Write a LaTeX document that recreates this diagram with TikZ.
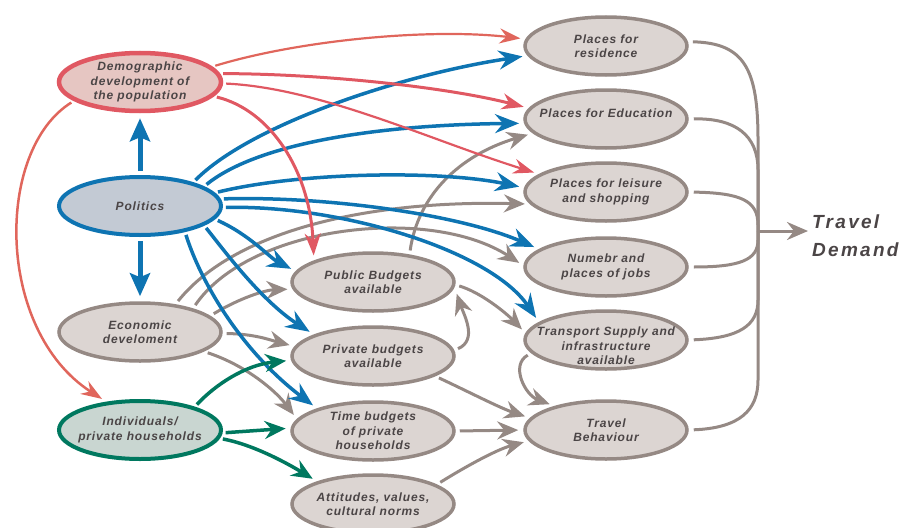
\documentclass[tikz,border=0pt]{standalone}
\usepackage{fontspec}
\setmainfont{Liberation Sans}
\newfontfamily\lblfont[LetterSpace=7]{Liberation Sans}
\newfontfamily\bigfont[LetterSpace=12]{Liberation Sans}
\usetikzlibrary{shapes.geometric,arrows.meta}
\definecolor{gcol}{HTML}{958984}
\definecolor{gfill}{HTML}{DCD5D2}
\definecolor{tcol}{HTML}{4B4546}
\definecolor{rcol}{HTML}{E05862}
\definecolor{rcolb}{HTML}{E0665C}
\definecolor{rfill}{HTML}{E6C6C2}
\definecolor{bcol}{HTML}{0E74B2}
\definecolor{bfill}{HTML}{C3CAD4}
\definecolor{ncol}{HTML}{00785F}
\definecolor{nfill}{HTML}{C9D6D1}
\begin{document}
\begin{tikzpicture}[x=1pt,y=-1pt,
  ell/.style={ellipse, draw=gcol, fill=gfill, line width=3.5pt,
    minimum width=162pt, minimum height=58pt, inner sep=0pt},
  lbl/.style={align=center, inner sep=0pt, text=tcol,
    font={\lblfont\bfseries\itshape\fontsize{12pt}{14.5pt}\selectfont}},
  garr/.style={draw=gcol, line width=3pt, -{Stealth[length=21pt,width=18pt,inset=7pt]},
    shorten <=4pt, shorten >=5pt},
  barr/.style={draw=bcol, line width=3.5pt, -{Stealth[length=24pt,width=19pt,inset=8pt]},
    shorten <=3pt, shorten >=5pt},
  barrbig/.style={draw=bcol, line width=5pt, -{Stealth[length=23pt,width=20pt,inset=4pt]},
    shorten <=4pt, shorten >=5pt},
  rarr/.style={draw=rcol, line width=3pt, -{Stealth[length=22pt,width=16pt,inset=7pt]},
    shorten <=3pt, shorten >=5pt},
  rarrthin/.style={draw=rcol, line width=2.2pt, -{Stealth[length=21pt,width=15pt,inset=7pt]},
    shorten <=3pt, shorten >=5pt},
  narr/.style={draw=ncol, line width=3.5pt, -{Stealth[length=21pt,width=18pt,inset=7pt]},
    shorten <=3pt, shorten >=5pt},
  brk/.style={draw=gcol, line width=3pt, shorten <=5pt}]
\useasboundingbox (0,0) rectangle (904,527);

% left column
\node[ell, draw=rcol, fill=rfill, line width=4.5pt, label={[lbl]center:{Demographic\\development of\\the population}}] (demo) at (140,82) {};
\node[ell, draw=bcol, fill=bfill, line width=4pt, label={[lbl]center:{Politics}}] (pol) at (140,206) {};
\node[ell, label={[lbl]center:{Economic\\develoment}}] (eco) at (140,332) {};
\node[ell, draw=ncol, fill=nfill, line width=4pt, label={[lbl]center:{Individuals/\\private households}}] (ind) at (140,430) {};
% middle column
\node[ell, label={[lbl]center:{Public Budgets\\available}}] (pub) at (373,282) {};
\node[ell, label={[lbl]center:{Private budgets\\available}}] (priv) at (373,356) {};
\node[ell, label={[lbl]center:{Time budgets\\of private\\households}}] (time) at (373,431) {};
\node[ell, label={[lbl]center:{Attitudes, values,\\cultural norms}}] (att) at (373,504) {};
% right column
\node[ell, label={[lbl]center:{Places for\\residence}}] (res) at (606,46) {};
\node[ell, label={[lbl, yshift=6pt]center:{Places for Education}}] (edu) at (606,119) {};
\node[ell, label={[lbl]center:{Places for leisure\\and shopping}}] (lei) at (606,192) {};
\node[ell, label={[lbl]center:{Numebr and\\places of jobs}}] (jobs) at (606,267) {};
\node[ell, label={[lbl, yshift=-6pt]center:{Transport Supply and\\infrastructure\\available}}] (trans) at (606,340) {};
\node[ell, label={[lbl]center:{Travel\\Behaviour}}] (tb) at (606,430) {};
% travel demand
\node[anchor=west, align=left, text=tcol, inner sep=0pt,
  font={\bigfont\bfseries\itshape\fontsize{19pt}{28pt}\selectfont}] (td) at (812,236) {Travel\\Demand};
\coordinate (hub) at (758,231);

% bracket to travel demand
\draw[brk] (res.3) .. controls (745,43) and (758,70) .. (758,140) -- (hub);
\draw[brk] (edu.0) .. controls (735,118) and (758,135) .. (758,170) -- (hub);
\draw[brk] (lei.0) .. controls (740,193) and (758,200) .. (758,225) -- (hub);
\draw[brk] (jobs.0) .. controls (740,267) and (758,260) .. (758,240) -- (hub);
\draw[brk] (trans.0) .. controls (740,338) and (758,325) .. (758,300) -- (hub);
\draw[brk] (tb.0) .. controls (740,428) and (758,410) .. (758,380) -- (hub);
\draw[garr, shorten <=0pt, shorten >=4pt] (hub) -- (td.west |- hub);

% gray arrows
\draw[garr] (eco.38) .. controls (235,230) and (370,200) .. (lei.189);
\draw[garr] (eco.24) .. controls (250,225) and (430,205) .. (jobs.179);
\draw[garr] (eco.13) .. controls (240,298) and (265,290) .. (pub.185);
\draw[garr] (eco.-1) .. controls (255,334) and (270,340) .. (priv.173);
\draw[garr] (eco.-17) .. controls (245,365) and (275,390) .. (time.171);
\draw[garr] (pub.37) .. controls (418,195) and (460,155) .. (edu.191);
\draw[garr] (pub.-2) .. controls (480,292) and (505,312) .. (trans.175);
\draw[garr, shorten >=1pt] (priv.4) .. controls (478,340) and (464,315) .. ([xshift=6pt]pub.-8);
\draw[garr] (priv.-18) .. controls (465,390) and (500,408) .. (tb.171);
\draw[garr] (time.0) -- (tb.180);
\draw[garr] (att.17) .. controls (460,470) and (495,450) .. (tb.188);
\draw[garr] (trans.190) .. controls (510,365) and (525,395) .. (tb.155);

% blue arrows
\draw[barr] (pol.24) .. controls (250,125) and (400,75) .. (res.187);
\draw[barr] (pol.17) .. controls (255,145) and (370,125) .. (edu.183);
\draw[barr] (pol.10) .. controls (300,172) and (440,170) .. (lei.177);
\draw[barr] (pol.5) .. controls (330,196) and (460,215) .. (jobs.165);
\draw[barr] (pol.-1) .. controls (340,205) and (490,250) .. (trans.165);
\draw[barr] (pol.-10) .. controls (250,235) and (270,258) .. (pub.172);
\draw[barr] (pol.-17) .. controls (220,245) and (260,300) .. (priv.160);
\draw[barr] (pol.-30) .. controls (200,280) and (240,350) .. (time.158);
\draw[barrbig] (pol.north) -- (demo.south);
\draw[barrbig] (pol.south) -- (eco.north);

% red arrows
\draw[rarrthin, draw=rcolb] (demo.12) .. controls (300,40) and (430,28) .. (res.175);
\draw[rarr] (demo.6) .. controls (330,74) and (450,88) .. (edu.172);
\draw[rarrthin] (demo.-1) .. controls (320,88) and (430,140) .. (lei.165);
\draw[rarr] (demo.-11) .. controls (270,110) and (310,170) .. (pub.160);
\draw[rarrthin, draw=rcolb, line width=2.5pt] (demo.196) .. controls (-5,150) and (-5,330) .. (ind.140);

% green arrows
\draw[narr] (ind.23) .. controls (215,385) and (245,365) .. (priv.183);
\draw[narr] (ind.-2) -- (time.178);
\draw[narr] (ind.-6) .. controls (255,445) and (290,465) .. (att.158);
\end{tikzpicture}
\end{document}
